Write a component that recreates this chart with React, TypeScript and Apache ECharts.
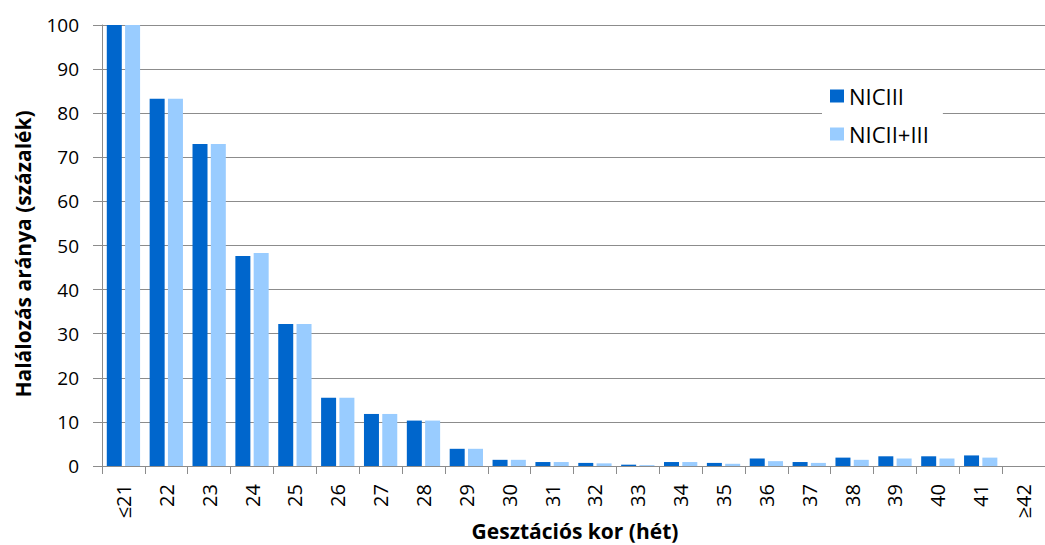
import React, { useEffect, useRef } from "react";
import * as echarts from "echarts";

const categories = ["≤21", "22", "23", "24", "25", "26", "27", "28", "29", "30", "31", "32", "33", "34", "35", "36", "37", "38", "39", "40", "41", "≥42"];
const niciii = [100, 83.3, 73.0, 47.6, 32.2, 15.5, 11.8, 10.3, 3.9, 1.4, 0.9, 0.7, 0.3, 0.9, 0.7, 1.7, 0.9, 1.9, 2.2, 2.2, 2.4, null];
const nicii_iii = [100, 83.3, 73.0, 48.3, 32.2, 15.5, 11.8, 10.3, 3.9, 1.4, 0.9, 0.6, 0.2, 0.9, 0.5, 1.1, 0.7, 1.4, 1.7, 1.7, 1.9, null];
const seriesNames = ["NICIII", "NICII+III"];
const yTitle = "Halálozás aránya (százalék)";
const xTitle = "Gesztációs kor (hét)";

const FONT = "'Open Sans', Lato, sans-serif";

export default function App() {
  const ref = useRef<HTMLDivElement>(null);
  useEffect(() => {
    if (!ref.current) return;
    const chart = echarts.init(ref.current, null, { renderer: "svg" });
    chart.setOption({
      animation: false,
      backgroundColor: "#ffffff",
      textStyle: { fontFamily: FONT },
      grid: { left: 102, right: 0, top: 25, bottom: 79, containLabel: false },
      legend: {
        orient: "vertical",
        left: 822,
        top: 78,
        backgroundColor: "#ffffff",
        padding: [7, 14, 7, 8],
        itemWidth: 14,
        itemHeight: 13,
        itemGap: 16,
        icon: "rect",
        textStyle: { fontFamily: FONT, fontSize: 22, color: "#000" },
        data: seriesNames,
      },
      xAxis: {
        type: "category",
        data: categories,
        boundaryGap: true,
        axisLine: { show: true, lineStyle: { color: "#8c8c8c", width: 1 } },
        axisTick: { show: true, alignWithLabel: false, length: 8, lineStyle: { color: "#8c8c8c" } },
        axisLabel: { rotate: 90, fontSize: 20, color: "#000", margin: 18, fontFamily: FONT, interval: 0 },
      },
      yAxis: {
        type: "value",
        min: 0,
        max: 100,
        interval: 10,
        axisLine: { show: true, lineStyle: { color: "#8c8c8c", width: 1 } },
        axisTick: { show: true, length: 9, lineStyle: { color: "#8c8c8c" } },
        splitLine: { show: true, lineStyle: { color: "#8c8c8c", width: 1 } },
        axisLabel: { fontSize: 19, color: "#000", margin: 23, fontFamily: FONT },
      },
      series: [
        {
          name: seriesNames[0],
          type: "bar",
          data: niciii,
          barWidth: 15,
          barGap: "22%",
          itemStyle: { color: "#0066cc" },
        },
        {
          name: seriesNames[1],
          type: "bar",
          data: nicii_iii,
          barWidth: 15,
          itemStyle: { color: "#99ccff" },
        },
      ],
      graphic: [
        {
          type: "text",
          x: 23,
          y: 254,
          rotation: Math.PI / 2,
          style: {
            text: yTitle,
            fontFamily: FONT,
            fontSize: 21,
            fontWeight: "bold",
            fill: "#000",
            align: "center",
            verticalAlign: "middle",
          },
        },
        {
          type: "text",
          x: 575,
          y: 531,
          style: {
            text: xTitle,
            fontFamily: FONT,
            fontSize: 21,
            fontWeight: "bold",
            fill: "#000",
            align: "center",
            verticalAlign: "middle",
          },
        },
      ],
    });
    return () => chart.dispose();
  }, []);
  return <div ref={ref} style={{ position: "fixed", left: 0, top: 0, width: 1045, height: 545 }} />;
}
